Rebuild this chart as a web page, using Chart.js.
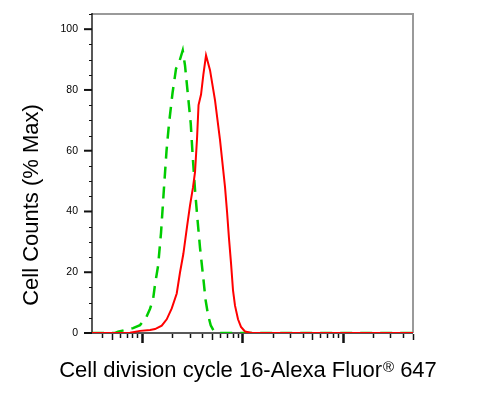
<!DOCTYPE html>
<html>
<head>
<meta charset="utf-8">
<title>Cell division cycle 16 histogram</title>
<script src="https://cdn.jsdelivr.net/npm/chart.js@4.4.1/dist/chart.umd.min.js"></script>
<style>
    html, body { margin: 0; padding: 0; background: #fff; }
</style>
</head>
<body>
<canvas id="histChart" width="479" height="394"></canvas>
<script>
/* Flow histogram — stained sample (red) vs control (green dashed) */

// x is fluorescence on a log axis, y is % of max count
const xMin = 3.17;
const xMax = 5035;

const redX = [3.17, 6.77, 7.59, 9.55, 12.02, 13.48, 15.72, 17.63, 19.78, 22.18, 23.93, 25.81, 28.10, 30.10,
    32.25, 33.77, 35.35, 36.59, 38.75, 40.85, 43.46, 47.64, 53.44, 59.95, 67.22, 70.39, 73.69, 77.15,
    80.78, 84.56, 90.60, 97.05, 106.4, 125.1, 5035];
const redY = [0, 0, 0.1, 0.7, 1.0, 1.3, 2.4, 4.5, 8.1, 13, 20, 26, 35, 42,
    48, 53, 64, 75, 78.5, 85, 91.4, 86.5, 76.6, 63.5, 48, 40, 31, 23,
    14, 9, 4.5, 2, 0.5, 0, 0];

const greenX = [3.17, 5.38, 5.77, 6.77, 8.14, 9.55, 10.96, 12.02, 12.88, 13.48, 14.44, 15.47, 16.57,
    17.55, 18.59, 20.14, 21.83, 23.38, 25.46, 26.84, 28.75, 30.59, 32.03, 33.77, 35.60, 37.87,
    40.85, 42.96, 45.50, 48.41, 52.23, 55.96, 5035];
const greenY = [0, 0, 0.4, 1.0, 1.6, 2.6, 5, 8, 11, 16, 22, 33, 48,
    60, 69, 79, 87, 89, 93, 88, 78, 69, 58, 47, 38, 28,
    18, 11, 6, 2.5, 0.5, 0, 0];

const yTicks = [0, 20, 40, 60, 80, 100];
const yMinorTicks = [5, 10, 15, 25, 30, 35, 45, 50, 55, 65, 70, 75, 85, 90, 95, 105];
const xDecades = [1, 10, 100, 1000];
const xMantissas = [1, 2, 3, 4, 5, 6, 7, 8, 9];

const yTitle = 'Cell Counts (% Max)';
const xTitleMain = 'Cell division cycle 16-Alexa Fluor';
const xTitleSup = '\u00AE';
const xTitleTail = ' 647';

const FONT = '"Liberation Sans", Arial, sans-serif';

function toPoints(xs, ys) {
    return xs.map((x, i) => ({ x: x, y: ys[i] }));
}

const axesPlugin = {
    id: 'flowAxes',
    beforeDatasetsDraw(chart) {
        const { ctx, chartArea: a } = chart;
        ctx.save();
        // grey frame top and right
        ctx.strokeStyle = '#9a9a9a';
        ctx.lineWidth = 2;
        ctx.beginPath();
        ctx.moveTo(a.left, a.top);
        ctx.lineTo(a.right, a.top);
        ctx.lineTo(a.right, a.bottom);
        ctx.stroke();
        // dark axes left and bottom
        ctx.strokeStyle = '#222';
        ctx.lineWidth = 1.5;
        ctx.beginPath();
        ctx.moveTo(a.left, a.top - 1);
        ctx.lineTo(a.left, a.bottom);
        ctx.lineTo(a.right, a.bottom);
        ctx.stroke();
        ctx.restore();
    },
    afterDraw(chart) {
        const { ctx, chartArea: a } = chart;
        const xs = chart.scales.x;
        const ys = chart.scales.y;
        ctx.save();
        ctx.strokeStyle = '#111';

        // x ticks below the axis
        xDecades.forEach(d => {
            xMantissas.forEach(m => {
                const v = m * d;
                if (v < xMin || v > xMax) return;
                const px = Math.round(xs.getPixelForValue(v)) + 0.5;
                const len = m === 1 ? 10 : (m === 5 ? 7 : 5);
                ctx.lineWidth = m === 1 ? 2.5 : 1.5;
                ctx.beginPath();
                ctx.moveTo(px, a.bottom + 1);
                ctx.lineTo(px, a.bottom + len);
                ctx.stroke();
            });
        });

        // y ticks left of the axis
        yTicks.forEach(v => {
            const py = ys.getPixelForValue(v);
            ctx.lineWidth = 2;
            ctx.beginPath();
            ctx.moveTo(a.left - 8, py);
            ctx.lineTo(a.left, py);
            ctx.stroke();
        });
        yMinorTicks.forEach(v => {
            const py = Math.round(ys.getPixelForValue(v)) + 0.5;
            ctx.lineWidth = 1;
            ctx.beginPath();
            ctx.moveTo(a.left - 3, py);
            ctx.lineTo(a.left, py);
            ctx.stroke();
        });

        // axis titles
        ctx.fillStyle = '#000';
        ctx.font = '22px ' + FONT;
        ctx.textBaseline = 'alphabetic';

        ctx.save();
        ctx.translate(37.5, 205);
        ctx.rotate(-Math.PI / 2);
        ctx.textAlign = 'center';
        ctx.fillText(yTitle, 0, 0);
        ctx.restore();

        ctx.textAlign = 'left';
        const wMain = ctx.measureText(xTitleMain).width;
        const wTail = ctx.measureText(xTitleTail).width;
        ctx.font = '15px ' + FONT;
        const wSup = ctx.measureText(xTitleSup).width;
        const total = wMain + 1 + wSup + wTail;
        let tx = 248 - total / 2;
        const base = 377;
        ctx.font = '22px ' + FONT;
        ctx.fillText(xTitleMain, tx, base);
        tx += wMain + 1;
        ctx.font = '15px ' + FONT;
        ctx.fillText(xTitleSup, tx, base - 5);
        tx += wSup;
        ctx.font = '22px ' + FONT;
        ctx.fillText(xTitleTail, tx, base);
        ctx.restore();
    }
};

new Chart(document.getElementById('histChart'), {
    type: 'line',
    data: {
        datasets: [
            {
                label: 'Cell division cycle 16',
                data: toPoints(redX, redY),
                borderColor: '#ff0000',
                borderWidth: 2,
                pointRadius: 0,
                tension: 0,
                fill: false,
            },
            {
                label: 'Control',
                data: toPoints(greenX, greenY),
                borderColor: '#00cc00',
                borderWidth: 2.5,
                borderDash: [12, 8],
                pointRadius: 0,
                tension: 0,
                fill: false,
            },
        ],
    },
    options: {
        responsive: false,
        animation: false,
        devicePixelRatio: 1,
        layout: { padding: { top: 14, right: 66, left: 0, bottom: 0 } },
        plugins: {
            legend: { display: false },
            tooltip: { enabled: false },
        },
        scales: {
            x: {
                type: 'logarithmic',
                min: xMin,
                max: xMax,
                grid: { display: false, drawTicks: false },
                border: { display: false },
                ticks: { display: false },
                afterFit(s) { s.height = 61; s.paddingLeft = 0; s.paddingRight = 0; },
            },
            y: {
                min: 0,
                max: 105,
                grid: { display: false, drawTicks: false },
                border: { display: false },
                ticks: { color: '#000', padding: 14, font: { family: FONT, size: 10.5 } },
                afterBuildTicks(s) { s.ticks = yTicks.map(v => ({ value: v })); },
                afterFit(s) { s.width = 92; s.paddingTop = 0; s.paddingBottom = 0; },
            },
        },
    },
    plugins: [axesPlugin],
});
</script>
</body>
</html>
